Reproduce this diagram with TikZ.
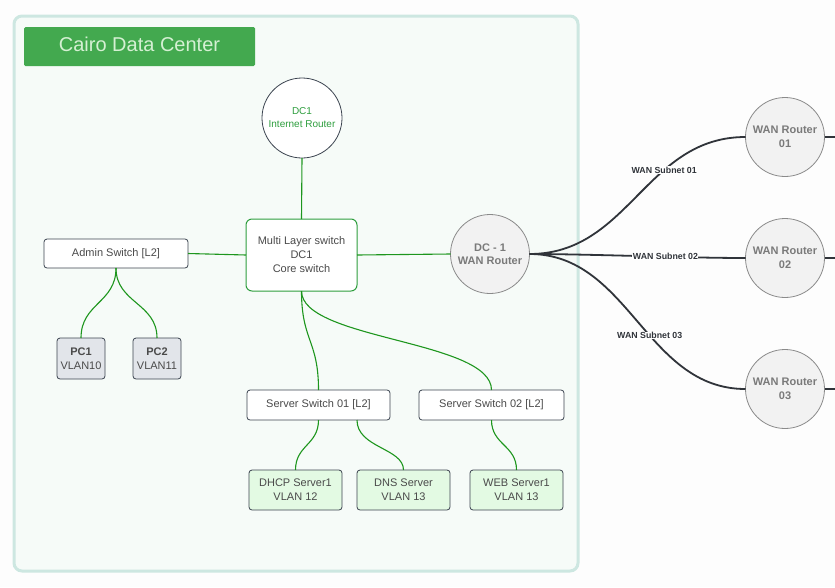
\documentclass[tikz,border=0pt]{standalone}
\usepackage{fontspec}
\setmainfont{Liberation Sans}
\definecolor{pagebg}{HTML}{FDFDFD}
\definecolor{contfill}{HTML}{F6FBF8}
\definecolor{contline}{HTML}{CDE7E1}
\definecolor{titlefill}{HTML}{43A94F}
\definecolor{titletext}{HTML}{D5F0D3}
\definecolor{lnkgreen}{HTML}{1E961E}
\definecolor{boxgreen}{HTML}{2E9E3E}
\definecolor{txtgray}{HTML}{4A4A4A}
\definecolor{boxline}{HTML}{3C4450}
\definecolor{pcfill}{HTML}{E2E5EA}
\definecolor{srvfill}{HTML}{E3FAE3}
\definecolor{rtrfill}{HTML}{F2F2F2}
\definecolor{rtrline}{HTML}{8A8A8A}
\definecolor{rtrtext}{HTML}{7A7A7A}
\definecolor{wanline}{HTML}{30343A}
\begin{document}
\begin{tikzpicture}[x=1pt,y=-1pt,
  every node/.style={inner sep=0pt, outer sep=0pt, font=\fontsize{11}{14}\selectfont, text=txtgray, align=center},
  plainbox/.style={draw=boxline, line width=0.8pt, fill=white, rounded corners=3pt},
  pcbox/.style={draw=boxline, line width=0.8pt, fill=pcfill, rounded corners=3pt, minimum width=48pt, minimum height=41pt},
  srvbox/.style={draw=boxline, line width=0.8pt, fill=srvfill, rounded corners=3pt, minimum width=93pt, minimum height=40pt},
  rtr/.style={circle, draw=rtrline, line width=0.8pt, fill=rtrfill, minimum size=79pt, text=rtrtext, font=\bfseries\fontsize{11}{13.5}\selectfont},
  glink/.style={draw=lnkgreen, line width=1.1pt},
  wlink/.style={draw=wanline, line width=1.8pt},
  wlabel/.style={font=\bfseries\fontsize{8.8}{10}\selectfont, text=wanline, fill=white, inner sep=0.5pt}
]
\useasboundingbox (0,0) rectangle (835,587);
\fill[pagebg] (0,0) rectangle (835,587);
% container
\draw[contline, line width=3pt, fill=contfill, rounded corners=8pt] (14,16) rectangle (578,571);
\node[fill=titlefill, rounded corners=1.5pt, minimum width=231pt, minimum height=39pt] (title) at (139.5,46.5) {};
\node[text=titletext, font=\fontsize{20}{22}\selectfont] (titletxt) at (139.5,44) {Cairo Data Center};

% nodes
\node[circle, draw=boxline, line width=0.8pt, fill=white, minimum size=80pt, text=boxgreen, font=\fontsize{10}{13}\selectfont] (inet) at (302,118) {DC1\\Internet Router};
\node[draw=boxgreen, line width=1pt, fill=white, rounded corners=6pt, minimum width=111pt, minimum height=72pt] (mls) at (301.5,255) {Multi Layer switch\\DC1\\Core switch};
\node[plainbox, minimum width=144pt, minimum height=29pt] (admin) at (116,253.5) {Admin Switch [L2]};
\node[rtr] (wan) at (490,254) {DC - 1\\WAN Router};
\node[pcbox] (pc1) at (81,358.5) {\textbf{PC1}\\VLAN10};
\node[pcbox] (pc2) at (157,358.5) {\textbf{PC2}\\VLAN11};
\node[plainbox, minimum width=143pt, minimum height=30pt] (ss1) at (318.5,405) {Server Switch 01 [L2]};
\node[plainbox, minimum width=145pt, minimum height=30pt] (ss2) at (491.5,405) {Server Switch 02 [L2]};
\node[srvbox] (dhcp) at (295.5,490) {DHCP Server1\\VLAN 12};
\node[srvbox] (dns) at (403.5,490) {DNS Server\\VLAN 13};
\node[srvbox] (web) at (516.5,490) {WEB Server1\\VLAN 13};
\node[rtr] (r1) at (785,137) {WAN Router\\01};
\node[rtr] (r2) at (785,258) {WAN Router\\02};
\node[rtr] (r3) at (785,389) {WAN Router\\03};
\coordinate (e1) at (835,137);
\coordinate (e2) at (835,258);
\coordinate (e3) at (835,389);

% green links
\draw[glink] (inet.south) -- (mls.north);
\draw[glink] (admin.east) -- (mls.west);
\draw[glink] (mls.east) -- (wan.west);
\draw[glink] (admin.south) .. controls +(0,35) and +(0,-35) .. (pc1.north);
\draw[glink] (admin.south) .. controls +(0,35) and +(0,-35) .. (pc2.north);
\draw[glink] (mls.south) .. controls +(0,50) and +(0,-50) .. (ss1.north);
\draw[glink] (mls.south) .. controls +(0,49) and +(0,-50) .. (ss2.north);
\draw[glink] (ss1.south) .. controls +(0,25) and +(0,-25) .. (dhcp.north);
\draw[glink] ([xshift=38.5pt]ss1.south) .. controls +(0,28) and +(0,-22) .. (dns.north);
\draw[glink] (ss2.south) .. controls +(0,25) and +(0,-25) .. (web.north);

% WAN links
\draw[wlink] (wan.east) .. controls +(100,0) and +(-100,0) .. node[wlabel, pos=0.65] {WAN Subnet 01} (r1.west);
\draw[wlink] (wan.east) .. controls +(60,0) and +(-60,0) .. node[wlabel, pos=0.62] {WAN Subnet 02} (r2.west);
\draw[wlink] (wan.east) .. controls +(100,0) and +(-100,0) .. node[wlabel, pos=0.57] {WAN Subnet 03} (r3.west);
\draw[wlink] (r1.east) -- (e1);
\draw[wlink] (r2.east) -- (e2);
\draw[wlink] (r3.east) -- (e3);
\end{tikzpicture}
\end{document}
